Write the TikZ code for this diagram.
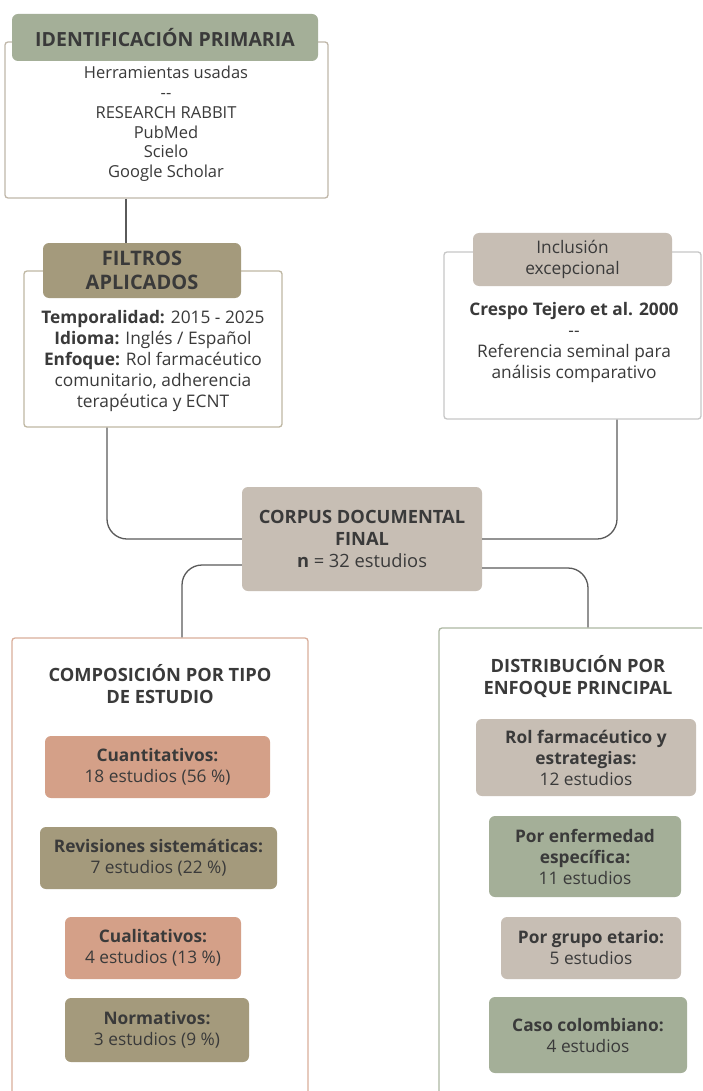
\documentclass[tikz,border=0pt]{standalone}
\usepackage{fontspec}
\setmainfont{Open Sans}
\usetikzlibrary{positioning}
\definecolor{verde}{HTML}{A4AF98}
\definecolor{oliva}{HTML}{A49A7C}
\definecolor{topo}{HTML}{C7BEB4}
\definecolor{salmon}{HTML}{D4A088}
\definecolor{texto}{HTML}{3A3A3A}
\definecolor{linea}{HTML}{5A5A5A}
\newcommand\titulo{\fontsize{20}{24}\selectfont\bfseries}
\newcommand\cuerpo{\fontsize{17.3}{21}\selectfont}
\newcommand\subtit{\fontsize{18.3}{22}\selectfont\bfseries}
\tikzset{
  marco/.style={draw=#1, line width=1.3pt, rounded corners=3pt, fill=white, inner sep=0pt},
  cab/.style={fill=#1, rounded corners=6pt, inner sep=0pt, align=center, text=texto, font=\titulo},
  caja/.style={fill=#1, rounded corners=6pt, inner sep=0pt, align=center, text=texto, font=\cuerpo},
  txt/.style={align=center, text=texto, font=\cuerpo, inner sep=0pt},
  enlace/.style={draw=linea, line width=1.3pt, rounded corners=20pt},
}
\begin{document}
\begin{tikzpicture}[x=1pt,y=-1pt]
  \useasboundingbox[fill=white] (0,0) rectangle (702,1091);
  \clip (0,0) rectangle (702,1091);

  % marcos
  \node[marco=topo!80!oliva, minimum width=323pt, minimum height=156pt] (prim) at (166.5,120) {};
  \node[marco=oliva!70, minimum width=258pt, minimum height=156pt] (filt) at (153,349) {};
  \node[marco=black!22, minimum width=257pt, minimum height=167pt] (incl) at (572.5,335.5) {};
  \node[marco=salmon!85, minimum width=296pt, minimum height=472pt] (comp) at (160,874) {};
  \node[marco=verde!90, minimum width=281pt, minimum height=482pt] (dist) at (579.5,869) {};

  % conectores
  \draw[enlace] ([xshift=-40.5pt]prim.south) -- ([xshift=-40.5pt]prim.south |- 0,243);
  \node[caja=topo, font=\subtit, minimum width=240pt, minimum height=104pt] (corpus) at (362,539)
    {CORPUS DOCUMENTAL\\FINAL\\\textbf{n} {\mdseries = 32 estudios}};
  \draw[enlace] ([xshift=-46pt]filt.south) |- (corpus.west);
  \draw[enlace] ([xshift=44.5pt]incl.south) |- (corpus.east);
  \draw[enlace] ([yshift=-26pt]corpus.west) -| ([xshift=22pt]comp.north);
  \draw[enlace] ([yshift=-29pt]corpus.east) -| ([xshift=8.5pt]dist.north);

  % cabeceras
  \node[cab=verde, font=\fontsize{19.5}{24}\selectfont\bfseries, minimum width=306pt, minimum height=47pt]
    (primhead) at (165,37.5) {IDENTIFICACIÓN PRIMARIA};
  \node[cab=oliva, minimum width=198pt, minimum height=55pt] (filthead) at (142,270.5) {FILTROS\\APLICADOS};
  \node[cab=topo, font=\cuerpo, minimum width=199pt, minimum height=53pt] (inclhead) at (572.5,259.5)
    {Inclusión\\excepcional};

  % textos
  \node[txt, font=\fontsize{16.5}{19.8}\selectfont] (primtxt) at (166,124)
    {Herramientas usadas\\{-}{-}\\RESEARCH RABBIT\\PubMed\\Scielo\\Google Scholar};
  \node[txt] (filttxt) at (153,361)
    {\textbf{Temporalidad:} 2015 - 2025\\\textbf{Idioma:} Inglés / Español\\\textbf{Enfoque:} Rol farmacéutico\\
     comunitario, adherencia\\terapéutica y ECNT};
  \node[txt] (incltxt) at (574,343)
    {\textbf{Crespo Tejero et al. 2000}\\{-}{-}\\Referencia seminal para\\análisis comparativo};

  % composicion
  \node[txt, font=\subtit] (comptit) at (160,684) {COMPOSICIÓN POR TIPO\\DE ESTUDIO};
  \node[caja=salmon, minimum width=225pt, minimum height=62pt] (cuant) at (157.5,767)
    {\textbf{Cuantitativos:}\\18 estudios (56 \%)};
  \node[caja=oliva, minimum width=237pt, minimum height=62pt] (revis) at (158.5,858)
    {\textbf{Revisiones sistemáticas:}\\7 estudios (22 \%)};
  \node[caja=salmon, minimum width=176pt, minimum height=62pt] (cuali) at (153,948)
    {\textbf{Cualitativos:}\\4 estudios (13 \%)};
  \node[caja=oliva, minimum width=184pt, minimum height=64pt] (norma) at (157,1030)
    {\textbf{Normativos:}\\3 estudios (9 \%)};

  % distribucion
  \node[txt, font=\subtit] (disttit) at (578,677) {DISTRIBUCIÓN POR\\ENFOQUE PRINCIPAL};
  \node[caja=topo, minimum width=220pt, minimum height=77pt] (rol) at (586,757.5)
    {\textbf{Rol farmacéutico y}\\\textbf{estrategias:}\\12 estudios};
  \node[caja=verde, minimum width=192pt, minimum height=81pt] (enf) at (585,856.5)
    {\textbf{Por enfermedad}\\\textbf{específica:}\\11 estudios};
  \node[caja=topo, minimum width=180pt, minimum height=62pt] (grupo) at (591,948)
    {\textbf{Por grupo etario:}\\5 estudios};
  \node[caja=verde, minimum width=198pt, minimum height=76pt] (caso) at (588,1035)
    {\textbf{Caso colombiano:}\\4 estudios};
\end{tikzpicture}
\end{document}
